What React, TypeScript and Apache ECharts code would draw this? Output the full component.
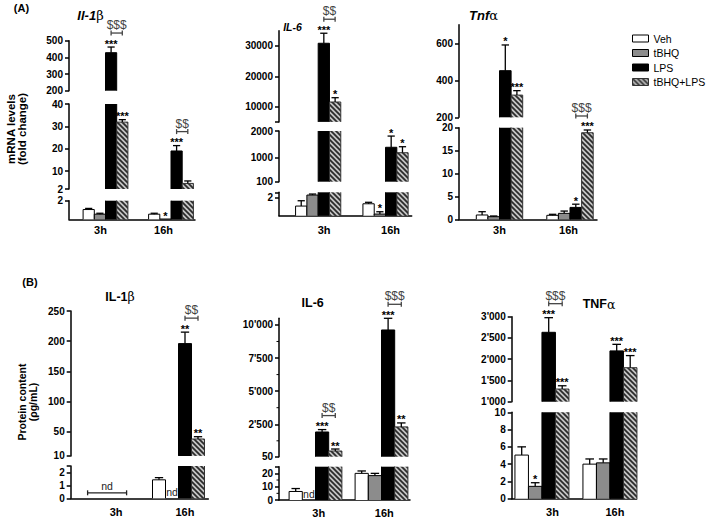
import React, { useEffect, useRef } from 'react';
import * as echarts from 'echarts';

const FONT = 'Liberation Sans, Arial, Helvetica, sans-serif';
const SERIF = 'DejaVu Serif, Liberation Serif, serif';

const categories = ['3h', '16h'];
const treatments = ['Veh', 'tBHQ', 'LPS', 'tBHQ+LPS'];

// (A) mRNA levels (fold change) — rows: treatments, columns: categories
const il1bMrnaMean = [[1.05, 0.55], [0.55, 0.03], [428, 19], [31.9, 4.5]];
const il1bMrnaSem = [[0.12, 0.1], [0.1, 0], [34, 2.4], [1.1, 1.1]];
const il1bMrnaStars = [['', ''], ['', '*'], ['***', '***'], ['***', '']];
const il1bMrnaDollars = ['$$$', '$$'];
const il1bMrnaRanges = [[200, 500], [2, 40], [0, 2]];
const il1bMrnaTicks = [[200, 300, 400, 500], [2, 10, 20, 30, 40], [1, 2]];

const il6MrnaMean = [[1.05, 1.3], [2.25, 0.18], [30900, 1390], [11550, 1186]];
const il6MrnaSem = [[0.58, 0.16], [0.11, 0.25], [3300, 420], [1420, 225]];
const il6MrnaStars = [['', ''], ['', '*'], ['***', '*'], ['*', '*']];
const il6MrnaDollars = ['$$', ''];
const il6MrnaRanges = [[5000, 35000], [100, 2000], [0, 2.55]];
const il6MrnaTicks = [[10000, 20000, 30000], [100, 1000, 2000], [1, 2]];
const il6MrnaEndTicks = [[5000], [], [2.55]];

const tnfMrnaMean = [[0.94, 0.87], [0.57, 1.3], [452, 2.6], [320, 18.9]];
const tnfMrnaSem = [[0.72, 0.22], [0.15, 0.5], [139, 0.7], [24, 0.6]];
const tnfMrnaStars = [['', ''], ['', ''], ['*', '*'], ['***', '***']];
const tnfMrnaDollars = ['', '$$$'];
const tnfMrnaRanges = [[200, 700], [0, 20]];
const tnfMrnaTicks = [[200, 400, 600], [0, 5, 10, 15, 20]];

// (B) protein content (pg/mL) — null = not detected (nd)
const il1bProtMean = [[null, 1.43], [null, null], [null, 196], [null, 38]];
const il1bProtSem = [[null, 0.17], [null, null], [null, 19], [null, 3.8]];
const il1bProtStars = [['', ''], ['', ''], ['', '**'], ['', '**']];
const il1bProtDollars = ['', '$$'];
const il1bProtRanges = [[10, 250], [0, 2.5]];
const il1bProtTicks = [[10, 50, 100, 150, 200, 250], [0, 1, 2]];
const il1bProtEndTicks = [[], [2.5]];

const il6ProtMean = [[6.4, 20], [null, 18.3], [1917, 9620], [480, 2300]];
const il6ProtSem = [[2.2, 1.8], [null, 1.7], [180, 880], [150, 300]];
const il6ProtStars = [['', ''], ['', ''], ['***', '***'], ['**', '**']];
const il6ProtDollars = ['$$', '$$$'];
const il6ProtRanges = [[50, 10500], [0, 25]];
const il6ProtTicks = [[50, 2500, 5000, 7500, 10000], [0, 10, 20]];
const il6ProtEndTicks = [[], [25]];
const il6ProtMinorTicks = [[1250, 3750, 6250, 8750], [5, 15]];

const tnfProtMean = [[5.05, 4.0], [1.43, 4.15], [2633, 2195], [1298, 1800]];
const tnfProtSem = [[0.95, 0.6], [0.42, 0.45], [344, 155], [77, 285]];
const tnfProtStars = [['', ''], ['*', ''], ['***', '***'], ['***', '***']];
const tnfProtDollars = ['$$$', ''];
const tnfProtRanges = [[1000, 3000], [0, 10]];
const tnfProtTicks = [[1000, 1500, 2000, 2500, 3000], [0, 2, 4, 6, 8, 10]];

type Layout = {
  left: number; right: number; segs: number[][]; barW: number; shifts: number[];
  labelDx: number; labelMargin: number;
};
type Sub = {
  mean: (number | null)[][]; sem: (number | null)[][]; stars: string[][]; dollars: string[];
  ranges: number[][]; ticks: number[][]; endTicks?: number[][]; minor?: number[][];
  thousands: boolean; L: Layout;
};

const subs: Sub[] = [
  {
    mean: il1bMrnaMean, sem: il1bMrnaSem, stars: il1bMrnaStars, dollars: il1bMrnaDollars,
    ranges: il1bMrnaRanges, ticks: il1bMrnaTicks, thousands: false,
    L: { left: 69, right: 195, segs: [[40.7, 90.7], [104, 189], [200.7, 219.3]], barW: 11.2, shifts: [5, 7.5], labelDx: 0, labelMargin: 5 },
  },
  {
    mean: il6MrnaMean, sem: il6MrnaSem, stars: il6MrnaStars, dollars: il6MrnaDollars,
    ranges: il6MrnaRanges, ticks: il6MrnaTicks, endTicks: il6MrnaEndTicks, thousands: false,
    L: { left: 279, right: 411.7, segs: [[30.8, 121.9], [131, 181.7], [192.3, 215.7]], barW: 11.3, shifts: [6, 7], labelDx: 12, labelMargin: 8.5 },
  },
  {
    mean: tnfMrnaMean, sem: tnfMrnaSem, stars: tnfMrnaStars, dollars: tnfMrnaDollars,
    ranges: tnfMrnaRanges, ticks: tnfMrnaTicks, thousands: false,
    L: { left: 459, right: 597, segs: [[24.8, 117.3], [127.7, 219.3]], barW: 11.6, shifts: [6, 7.5], labelDx: 6, labelMargin: 5 },
  },
  {
    mean: il1bProtMean, sem: il1bProtSem, stars: il1bProtStars, dollars: il1bProtDollars,
    ranges: il1bProtRanges, ticks: il1bProtTicks, endTicks: il1bProtEndTicks, thousands: false,
    L: { left: 70.7, right: 208.3, segs: [[311, 455.9], [466, 498.3]], barW: 13, shifts: [2, 4.6], labelDx: 11, labelMargin: 8 },
  },
  {
    mean: il6ProtMean, sem: il6ProtSem, stars: il6ProtStars, dollars: il6ProtDollars,
    ranges: il6ProtRanges, ticks: il6ProtTicks, endTicks: il6ProtEndTicks, minor: il6ProtMinorTicks, thousands: true,
    L: { left: 279, right: 410, segs: [[318.3, 456.7], [466.7, 501.3]], barW: 13.2, shifts: [3.75, 4.25], labelDx: 7, labelMargin: 7 },
  },
  {
    mean: tnfProtMean, sem: tnfProtSem, stars: tnfProtStars, dollars: tnfProtDollars,
    ranges: tnfProtRanges, ticks: tnfProtTicks, thousands: true,
    L: { left: 511.7, right: 636.7, segs: [[316.7, 401.7], [412.3, 498.7]], barW: 13.5, shifts: [-1, 4.5], labelDx: 9.5, labelMargin: 8 },
  },
];

function makeHatch() {
  const c = document.createElement('canvas');
  c.width = 5;
  c.height = 5;
  const g = c.getContext('2d')!;
  g.fillStyle = '#c4c4c4';
  g.fillRect(0, 0, 5, 5);
  g.strokeStyle = '#2a2a2a';
  g.lineWidth = 1.7;
  g.beginPath();
  g.moveTo(-1, -1); g.lineTo(6, 6);
  g.moveTo(-1, 4); g.lineTo(1, 6);
  g.moveTo(4, -1); g.lineTo(6, 1);
  g.stroke();
  return c;
}

function fmtNum(v: number, thousands: boolean) {
  const s = String(v);
  return thousands ? s.replace(/\B(?=(\d{3})+(?!\d))/g, "'") : s;
}

// plain text for the graphic component
function txt(text: string, x: number, y: number, font: string, fill = '#000') {
  return {
    type: 'text', x, y, silent: true,
    style: { text, font, fill, align: 'center', verticalAlign: 'middle', textAlign: 'center', textVerticalAlign: 'middle' },
  };
}

// text inside a custom series: a zero-size rect carrying a text content
function ctxt(text: string, x: number, y: number, font: string, fill = '#000') {
  return {
    type: 'rect', silent: true,
    shape: { x, y, width: 0, height: 0 },
    style: { fill: 'none', stroke: 'none' },
    textContent: { style: { text, font, fill, stroke: 'none', lineWidth: 0 } },
    textConfig: { position: 'inside', inside: false, insideFill: fill, outsideFill: fill, insideStroke: 'none', outsideStroke: 'none' },
  };
}

function buildOption() {
  const hatch = { image: makeHatch(), repeat: 'repeat' };
  const fills: any[] = ['#ffffff', '#8c8c8c', '#000000', hatch];
  const borders = ['#000', '#000', '#000', '#333'];
  const grids: any[] = [];
  const xAxes: any[] = [];
  const yAxes: any[] = [];
  const series: any[] = [];

  subs.forEach((sp) => {
    const L = sp.L;
    const nSeg = sp.ranges.length;
    sp.ranges.forEach((rng, si) => {
      const gi = grids.length;
      const [lo, hi] = rng;
      const isBottom = si === nSeg - 1;
      const [top, bottom] = L.segs[si];
      grids.push({ left: L.left, top, width: L.right - L.left, height: bottom - top, containLabel: false });
      xAxes.push({
        type: 'category', gridIndex: gi, data: categories, show: isBottom, boundaryGap: true,
        axisLine: { show: true, onZero: false, lineStyle: { color: '#000', width: 1.5 } },
        axisTick: { show: false },
        axisLabel: {
          show: true, color: '#000', fontFamily: FONT, fontWeight: 'bold', fontSize: 11,
          margin: L.labelMargin, padding: [0, 0, 0, L.labelDx * 2],
        },
        splitLine: { show: false },
      });
      const tickVals = sp.ticks[si].concat(sp.endTicks ? sp.endTicks[si] : []);
      yAxes.push({
        type: 'value', gridIndex: gi, min: lo, max: hi,
        axisLine: { show: true, onZero: false, lineStyle: { color: '#000', width: 1.5 } },
        axisTick: { show: true, length: 4, customValues: tickVals, lineStyle: { color: '#000', width: 1.5 } },
        axisLabel: {
          show: true, customValues: sp.ticks[si], color: '#000', fontFamily: FONT, fontWeight: 'bold', fontSize: 10,
          margin: 6, formatter: (v: number) => fmtNum(v, sp.thousands),
        },
        splitLine: { show: false },
      });
      const inSeg = (v: number) => (isBottom ? v >= lo : v > lo) && v <= hi;

      treatments.forEach((tn, ti) => {
        series.push({
          type: 'custom', name: tn, coordinateSystem: 'cartesian2d', xAxisIndex: gi, yAxisIndex: gi,
          silent: true, clip: false,
          itemStyle: { color: fills[ti], borderColor: borders[ti], borderWidth: 1 },
          data: categories.map((_, ci) => [ci, sp.mean[ti][ci] == null ? lo : sp.mean[ti][ci]]),
          renderItem: (params: any, api: any) => {
            const ci = params.dataIndex;
            const m = sp.mean[ti][ci];
            if (m == null || m <= lo) return null;
            const e = sp.sem[ti][ci] || 0;
            const base = api.coord([ci, lo]);
            const cx = base[0] + L.shifts[ci] + (ti - 1.5) * L.barW;
            const x0 = cx - L.barW / 2;
            const x1 = cx + L.barW / 2;
            const yb = base[1];
            const topIn = m <= hi;
            const yt = api.coord([ci, Math.min(m, hi)])[1];
            const children: any[] = [];
            children.push({ type: 'rect', shape: { x: x0, y: yt, width: L.barW, height: Math.max(yb - yt, 0) }, style: { fill: fills[ti], stroke: null } });
            const bs = { stroke: borders[ti], lineWidth: 1, fill: null };
            if (topIn) {
              children.push({ type: 'polyline', shape: { points: [[x0, yb], [x0, yt], [x1, yt], [x1, yb]] }, style: bs });
              const te = m + e;
              const ye = api.coord([ci, Math.min(te, hi)])[1];
              if (e > 0) {
                children.push({ type: 'line', shape: { x1: cx, y1: yt, x2: cx, y2: ye }, style: { stroke: '#000', lineWidth: 1.3 } });
                const cw = L.barW * 0.32;
                children.push({ type: 'line', shape: { x1: cx - cw, y1: ye, x2: cx + cw, y2: ye }, style: { stroke: '#000', lineWidth: 1.3 } });
              }
              const st = sp.stars[ti][ci];
              if (st) children.push(ctxt(st, cx, ye - 3.5, `bold 11px ${FONT}`, '#000'));
            } else {
              children.push({ type: 'line', shape: { x1: x0, y1: yb, x2: x0, y2: yt }, style: bs });
              children.push({ type: 'line', shape: { x1: x1, y1: yb, x2: x1, y2: yt }, style: bs });
            }
            return { type: 'group', children };
          },
        });
      });

      // annotations: significance brackets, nd marks, minor ticks
      series.push({
        type: 'custom', name: 'annotations', coordinateSystem: 'cartesian2d', xAxisIndex: gi, yAxisIndex: gi,
        silent: true, clip: false,
        itemStyle: { color: '#444' },
        data: [[0, lo]],
        renderItem: (params: any, api: any) => {
          const children: any[] = [];
          const slotX = (ci: number, ti: number) => api.coord([ci, lo])[0] + L.shifts[ci] + (ti - 1.5) * L.barW;
          categories.forEach((_, ci) => {
            const d = sp.dollars[ci];
            if (d) {
              const tops = [2, 3].map((ti) => (sp.mean[ti][ci] || 0) + (sp.sem[ti][ci] || 0));
              const tv = Math.max(tops[0], tops[1]);
              if (inSeg(tv)) {
                const y = api.coord([ci, tv])[1] - 14;
                const xa = slotX(ci, 2);
                const xb = slotX(ci, 3);
                const ls = { stroke: '#444', lineWidth: 1.3 };
                children.push({ type: 'line', shape: { x1: xa, y1: y, x2: xb, y2: y }, style: ls });
                children.push({ type: 'line', shape: { x1: xa, y1: y - 2.5, x2: xa, y2: y + 2.5 }, style: ls });
                children.push({ type: 'line', shape: { x1: xb, y1: y - 2.5, x2: xb, y2: y + 2.5 }, style: ls });
                children.push(ctxt(d, (xa + xb) / 2, y - 8, `12px ${FONT}`, '#444'));
              }
            }
            if (isBottom) {
              const nulls = treatments.map((_, ti) => sp.mean[ti][ci] == null);
              const y0 = api.coord([ci, 0])[1];
              if (nulls.every(Boolean)) {
                const xa = slotX(ci, 0);
                const xb = slotX(ci, 3);
                const y = y0 - 5.5;
                const ls = { stroke: '#222', lineWidth: 1.3 };
                children.push({ type: 'line', shape: { x1: xa, y1: y, x2: xb, y2: y }, style: ls });
                children.push({ type: 'line', shape: { x1: xa, y1: y - 2.5, x2: xa, y2: y + 2.5 }, style: ls });
                children.push({ type: 'line', shape: { x1: xb, y1: y - 2.5, x2: xb, y2: y + 2.5 }, style: ls });
                children.push(ctxt('nd', (xa + xb) / 2, y - 7, `10.5px ${FONT}`, '#222'));
              } else {
                nulls.forEach((isNull, ti) => {
                  if (isNull) children.push(ctxt('nd', slotX(ci, ti), y0 - 6, `10.5px ${FONT}`, '#222'));
                });
              }
            }
          });
          if (sp.minor) {
            sp.minor[si].forEach((v) => {
              const y = api.coord([0, v])[1];
              children.push({ type: 'line', shape: { x1: L.left - 2.5, y1: y, x2: L.left, y2: y }, style: { stroke: '#000', lineWidth: 1 } });
            });
          }
          return { type: 'group', children };
        },
      });
    });
  });

  const rich = (bold: boolean, italic: boolean, size: number) => ({
    a: { fontFamily: FONT, fontWeight: bold ? 'bold' : 'normal', fontStyle: italic ? 'italic' : 'normal', fontSize: size, fill: '#000', color: '#000' },
    g: { fontFamily: SERIF, fontWeight: 'normal', fontSize: size, fill: '#000', color: '#000' },
  });
  const richTxt = (text: string, x: number, y: number, r: any) => ({
    type: 'text', x, y, silent: true,
    style: { text, rich: r, align: 'center', verticalAlign: 'middle', textAlign: 'center', textVerticalAlign: 'middle' },
  });

  const graphic: any[] = [
    txt('(A)', 21.5, 8, `bold 11px ${FONT}`),
    txt('(B)', 30, 281.7, `bold 11px ${FONT}`),
    richTxt('{a|Il-1}{g|β}', 90.5, 15, rich(true, true, 13)),
    txt('IL-6', 292.5, 26.7, `italic bold 10.5px ${FONT}`),
    richTxt('{a|Tnf}{g|α}', 483.5, 15, rich(true, true, 13)),
    richTxt('{a|IL-1}{g|β}', 120, 296.7, rich(true, false, 12.5)),
    txt('IL-6', 312.7, 303.3, `bold 12.5px ${FONT}`),
    richTxt('{a|TNF}{g|α}', 599, 304.3, rich(true, false, 12.5)),
    {
      type: 'text', x: 16, y: 129, rotation: Math.PI / 2, silent: true,
      style: { text: 'mRNA levels\n(fold change)', font: `bold 11.5px ${FONT}`, lineHeight: 11, fill: '#000', align: 'center', verticalAlign: 'middle', textAlign: 'center', textVerticalAlign: 'middle' },
    },
    {
      type: 'text', x: 27, y: 402, rotation: Math.PI / 2, silent: true,
      style: { text: 'Protein content\n(ρg/mL)', font: `bold 10.5px ${FONT}`, lineHeight: 11, fill: '#000', align: 'center', verticalAlign: 'middle', textAlign: 'center', textVerticalAlign: 'middle' },
    },
  ];

  return {
    animation: false,
    backgroundColor: '#ffffff',
    textStyle: { fontFamily: FONT },
    grid: grids,
    xAxis: xAxes,
    yAxis: yAxes,
    series,
    graphic,
    legend: {
      show: true, orient: 'vertical', left: 627, top: 27, itemWidth: 16, itemHeight: 7, itemGap: 1.5,
      selectedMode: false, icon: 'rect',
      textStyle: { fontFamily: FONT, fontSize: 10.5, color: '#000', lineHeight: 13 },
      data: treatments.map((t, ti) => ({
        name: t, icon: 'rect',
        itemStyle: { color: fills[ti], borderColor: borders[ti], borderWidth: 1 },
      })),
    },
  };
}

export default function App() {
  const ref = useRef<HTMLDivElement>(null);
  useEffect(() => {
    if (!ref.current) return;
    const chart = echarts.init(ref.current, undefined, { renderer: 'svg', width: 709, height: 518 });
    chart.setOption(buildOption() as any);
    return () => chart.dispose();
  }, []);
  return (
    <div
      ref={ref}
      style={{ position: 'fixed', left: 0, top: 0, width: 709, height: 518, background: '#fff' }}
    />
  );
}
